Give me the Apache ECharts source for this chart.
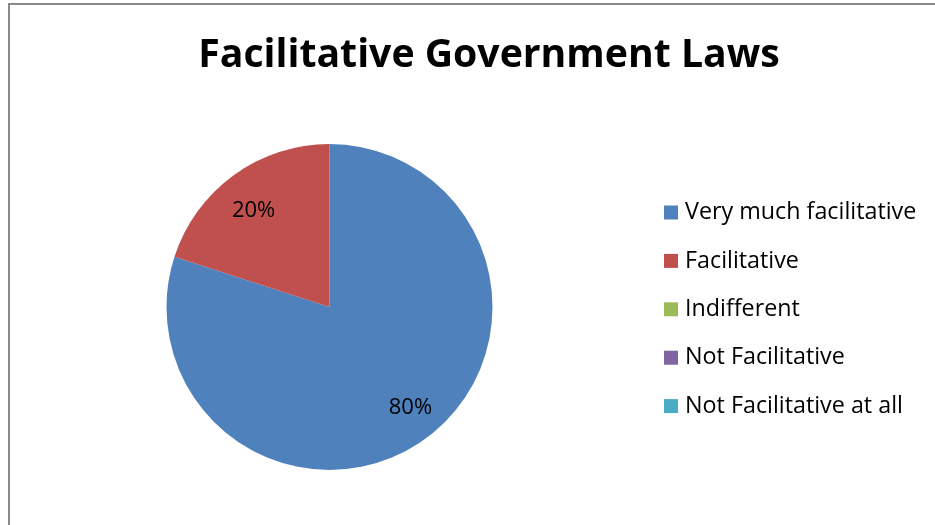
<!DOCTYPE html>
<html>
<head>
<meta charset="utf-8">
<script src="https://cdn.jsdelivr.net/npm/echarts@6/dist/echarts.min.js"></script>
<style>
  html, body { margin: 0; padding: 0; background: #fff; }
  #chart { width: 935px; height: 525px; }
</style>
</head>
<body>
<div id="chart"></div>
<script>
var categories = ['Very much facilitative', 'Facilitative', 'Indifferent', 'Not Facilitative', 'Not Facilitative at all'];
var shares = [80, 20, 0, 0, 0];
var colors = ['#4F81BD', '#C0504D', '#9BBB59', '#8064A2', '#4BACC6'];

var pieData = categories.map(function (name, i) {
  return { name: name, value: shares[i] };
});

var chart = echarts.init(document.getElementById('chart'));

var option = {
  animation: false,
  color: colors,
  title: {
    text: 'Facilitative Government Laws',
    left: 484,
    textAlign: 'center',
    top: 31,
    textStyle: {
      fontFamily: 'Open Sans',
      fontWeight: 'bold',
      fontSize: 39.2,
      color: '#000'
    }
  },
  legend: {
    orient: 'vertical',
    left: 659,
    top: 196,
    icon: 'rect',
    itemWidth: 14,
    itemHeight: 14,
    itemGap: 25.4,
    data: categories,
    textStyle: {
      fontFamily: 'Open Sans',
      fontSize: 23.3,
      lineHeight: 22,
      color: '#000',
      padding: [0, 0, 0, 2]
    }
  },
  graphic: [{
    type: 'rect',
    shape: { x: 9, y: 4, width: 1000, height: 600 },
    style: { fill: 'none', stroke: '#898989', lineWidth: 2 },
    silent: true
  }],
  series: [{
    type: 'pie',
    center: [329.5, 307],
    radius: [0, 163],
    startAngle: 90,
    clockwise: true,
    label: { show: false },
    labelLine: { show: false },
    emphasis: { disabled: true },
    data: pieData
  }, {
    // transparent ring only used to place the percentage labels
    type: 'pie',
    center: [332, 309],
    radius: [92, 154],
    startAngle: 92.5,
    clockwise: true,
    silent: true,
    itemStyle: { color: 'transparent' },
    label: {
      show: true,
      position: 'inside',
      fontFamily: 'Open Sans',
      fontSize: 22,
      color: '#000',
      formatter: function (p) { return p.value ? p.value + '%' : ''; }
    },
    labelLine: { show: false },
    emphasis: { disabled: true },
    data: pieData
  }]
};

chart.setOption(option);
</script>
</body>
</html>
